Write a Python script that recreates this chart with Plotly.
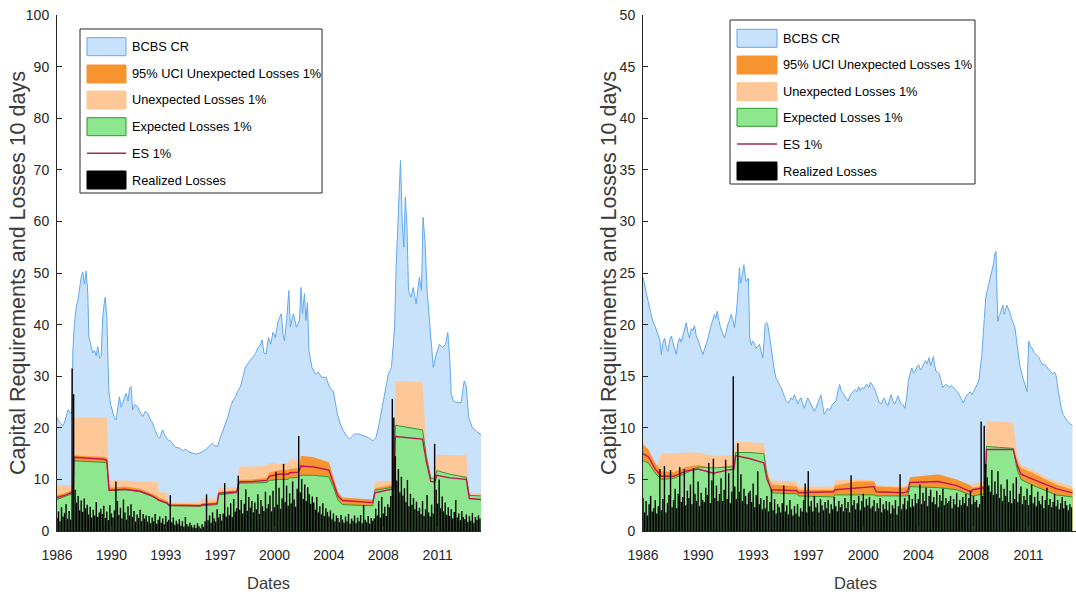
import plotly.graph_objects as go

W, H = 1076, 596

# ---------------------------------------------------------------- shared axis labels
TICK_VALS = [1986.0, 1989.6, 1993.2, 1996.8, 2000.4, 2004.0, 2007.6, 2011.2]
TICK_TEXT = ["1986", "1990", "1993", "1997", "2000", "2004", "2008", "2011"]
LEGEND_LABELS = ["BCBS CR", "95% UCI Unexpected Losses 1%", "Unexpected Losses 1%",
                 "Expected Losses 1%", "ES 1%", "Realized Losses"]

# ---------------------------------------------------------------- left panel
bcbs_l_dates = [
    1986.0, 1986.07, 1986.25, 1986.4, 1986.55, 1986.73, 1986.85, 1986.95, 1987.0, 1987.05,
    1987.15, 1987.27, 1987.4, 1987.49, 1987.6, 1987.71, 1987.82, 1987.93, 1988.04, 1988.11,
    1988.26, 1988.37, 1988.48, 1988.6, 1988.7, 1988.82, 1988.92, 1989.03, 1989.12, 1989.19,
    1989.3, 1989.43, 1989.55, 1989.69, 1989.8, 1989.91, 1990.0, 1990.13, 1990.25, 1990.35,
    1990.47, 1990.57, 1990.7, 1990.8, 1990.9, 1991.01, 1991.15, 1991.34, 1991.5, 1991.67,
    1991.85, 1992.0, 1992.15, 1992.33, 1992.5, 1992.66, 1992.8, 1992.99, 1993.15, 1993.32,
    1993.5, 1993.65, 1993.85, 1994.09, 1994.3, 1994.53, 1994.75, 1994.97, 1995.2, 1995.41,
    1995.6, 1995.85, 1996.05, 1996.29, 1996.45, 1996.62, 1996.84, 1997.0, 1997.16, 1997.3,
    1997.49, 1997.65, 1997.82, 1997.95, 1998.15, 1998.3, 1998.48, 1998.65, 1998.81, 1998.95,
    1999.14, 1999.3, 1999.45, 1999.58, 1999.7, 1999.84, 2000.0, 2000.15, 2000.3, 2000.45,
    2000.65, 2000.85, 2000.97, 2001.06, 2001.2, 2001.35, 2001.45, 2001.65, 2001.85, 2002.05,
    2002.15, 2002.25, 2002.38, 2002.48, 2002.58, 2002.68, 2002.88, 2003.1, 2003.3, 2003.5,
    2003.8, 2004.05, 2004.3, 2004.56, 2004.76, 2004.97, 2005.17, 2005.38, 2005.68, 2005.99,
    2006.3, 2006.61, 2006.91, 2007.12, 2007.32, 2007.53, 2007.73, 2007.94, 2008.14, 2008.35,
    2008.45, 2008.55, 2008.65, 2008.74, 2008.86, 2008.96, 2009.06, 2009.17, 2009.27, 2009.43,
    2009.58, 2009.78, 2009.99, 2010.13, 2010.23, 2010.36, 2010.5, 2010.7, 2010.91, 2011.11,
    2011.32, 2011.52, 2011.73, 2011.87, 2012.0, 2012.1, 2012.24, 2012.45, 2012.75, 2012.96,
    2013.1, 2013.25, 2013.5, 2013.75, 2014.07]
bcbs_l = [
    22.0, 21.5, 20.8, 20.4, 21.5, 23.5, 23.0, 22.8, 24.0, 35.0,
    40.0, 43.4, 45.0, 46.6, 49.2, 50.2, 47.9, 50.4, 46.0, 37.6,
    35.7, 34.5, 35.0, 34.0, 35.7, 33.5, 33.8, 41.5, 44.0, 45.3,
    41.5, 27.3, 24.5, 22.8, 22.0, 21.5, 23.5, 26.0, 24.0, 24.8,
    25.5, 26.7, 25.2, 27.5, 28.0, 23.5, 24.5, 24.1, 23.0, 22.2,
    23.2, 22.8, 21.8, 20.9, 19.5, 18.3, 18.0, 19.6, 18.5, 17.7,
    17.5, 17.0, 16.2, 16.1, 15.6, 15.8, 15.3, 15.1, 14.9, 15.1,
    15.3, 15.8, 16.3, 17.0, 16.5, 16.4, 18.3, 19.5, 20.9, 22.0,
    24.1, 25.3, 26.0, 27.0, 28.0, 29.5, 31.8, 32.5, 33.1, 33.8,
    34.4, 35.5, 36.0, 37.0, 34.5, 34.3, 37.5, 36.2, 38.5, 37.5,
    40.8, 42.1, 38.0, 36.9, 40.8, 46.6, 39.5, 42.1, 39.5, 40.8,
    47.2, 42.1, 46.0, 40.8, 44.3, 35.0, 31.7, 30.4, 30.8, 29.8,
    29.8, 27.8, 27.0, 22.7, 20.7, 19.4, 18.4, 17.8, 18.8, 18.8,
    18.4, 18.1, 17.5, 18.1, 20.7, 23.9, 26.5, 30.4, 31.7, 39.5,
    51.1, 58.9, 68.0, 71.8, 59.6, 55.0, 64.7, 59.0, 46.6, 45.3,
    47.2, 44.0, 49.2, 46.6, 60.8, 56.3, 46.6, 38.8, 31.7, 34.3,
    36.2, 35.6, 36.2, 38.5, 33.6, 26.5, 25.2, 24.9, 24.9, 29.1,
    28.0, 22.0, 20.0, 19.4, 18.6]

low_l_dates = [
    1986.0, 1986.5, 1987.0, 1987.08, 1987.12, 1988.0, 1989.1, 1989.3, 1989.45, 1990.5,
    1991.5, 1992.3, 1992.65, 1992.75, 1993.3, 1993.4, 1995.5, 1995.6, 1996.6, 1996.7,
    1997.9, 1998.05, 1999.0, 1999.9, 2000.05, 2000.7, 2001.3, 2001.4, 2002.0, 2002.15,
    2003.0, 2004.0, 2004.3, 2004.6, 2004.9, 2006.0, 2006.9, 2007.05, 2008.3, 2008.4,
    2009.3, 2010.2, 2010.45, 2010.75, 2011.0, 2011.15, 2012.0, 2013.1, 2013.3, 2014.07]
ul_l = [
    8.8, 8.8, 8.8, 8.8, 22.0, 22.0, 22.0, 22.0, 9.8, 9.8,
    9.6, 9.6, 9.5, 7.5, 7.4, 5.5, 5.5, 6.3, 6.3, 8.4,
    8.5, 12.5, 12.5, 12.7, 13.2, 13.0, 13.2, 13.8, 13.8, 12.5,
    12.5, 12.3, 10.0, 7.0, 6.0, 6.0, 5.8, 9.6, 9.8, 29.0,
    29.0, 28.8, 16.0, 11.0, 10.5, 14.8, 14.8, 14.7, 7.3, 7.2]
uci_l = [
    7.0, 7.3, 7.9, 7.9, 14.7, 14.5, 14.4, 14.2, 8.4, 8.6,
    8.2, 7.2, 6.8, 6.5, 5.8, 5.3, 5.2, 5.4, 5.6, 7.6,
    7.9, 9.9, 10.0, 10.3, 11.3, 11.8, 11.8, 12.0, 12.2, 14.6,
    14.3, 13.3, 10.5, 7.6, 6.5, 6.3, 6.1, 8.3, 9.0, 19.5,
    19.3, 19.0, 14.0, 10.2, 10.2, 11.2, 10.8, 10.5, 7.0, 6.8]
el_l = [
    6.1, 6.6, 7.2, 7.3, 13.6, 13.5, 13.3, 13.2, 7.8, 8.0,
    7.6, 6.7, 6.2, 5.9, 5.3, 4.9, 4.8, 4.9, 5.1, 7.0,
    7.4, 9.3, 9.3, 9.4, 9.8, 10.0, 10.0, 10.3, 10.4, 10.8,
    10.8, 10.5, 8.5, 6.0, 5.1, 5.0, 4.9, 7.9, 8.5, 20.5,
    20.0, 19.6, 14.5, 10.2, 10.2, 11.7, 11.0, 10.4, 6.9, 6.8]
es_l = [
    6.5, 6.9, 7.5, 7.6, 14.3, 14.1, 13.9, 13.7, 7.9, 8.1,
    7.7, 6.8, 6.3, 6.0, 5.4, 5.0, 4.9, 5.1, 5.3, 7.3,
    7.6, 9.5, 9.6, 9.8, 10.6, 11.0, 11.0, 11.3, 11.4, 12.6,
    12.4, 11.8, 9.3, 6.8, 5.9, 5.7, 5.5, 7.4, 8.2, 18.3,
    18.0, 17.8, 13.5, 9.6, 9.5, 10.8, 10.3, 10.0, 6.3, 6.1]

# realized 10-day losses, one value every 0.1 year from 1986.0
loss_l = [
    2.5, 3.8, 1.9, 4.6, 2.8, 3.5, 5.2, 2.4, 3.9, 2.2,
    31.5, 26.5, 8.0, 5.5, 6.8, 4.0, 5.9, 3.7, 6.3, 4.4,
    5.1, 3.2, 4.7, 2.6, 4.1, 3.0, 5.6, 2.7, 3.6, 4.3,
    3.3, 4.9, 2.5, 3.8, 2.1, 5.0, 3.4, 2.6, 4.0, 9.6,
    5.8, 3.1, 4.5, 2.4, 6.1, 3.6, 2.2, 4.8, 3.0, 5.2,
    2.7, 3.9, 1.8, 3.2, 2.5, 4.1, 1.9, 3.3, 2.4, 3.0,
    1.8, 2.9, 1.5, 2.6, 1.9, 3.3, 1.4, 2.2, 2.8, 1.6,
    2.4, 1.3, 2.9, 1.8, 2.2, 7.0, 1.7, 2.6, 1.2, 2.0,
    1.4, 2.3, 1.0, 1.9, 0.8, 2.7, 1.3, 0.9, 1.6, 1.1,
    0.7, 1.2, 0.6, 1.5, 0.9, 0.5, 1.3, 0.8, 1.9, 7.1,
    2.1, 3.0, 1.6, 3.6, 2.4, 1.8, 4.2, 2.6, 3.3, 2.0,
    3.4, 9.3, 2.8, 4.6, 3.1, 5.4, 2.7, 6.2, 3.8, 4.4,
    10.7, 4.1, 6.0, 3.4, 5.3, 8.1, 3.9, 6.6, 4.5, 5.8,
    3.6, 5.5, 4.2, 7.1, 3.3, 6.0, 4.8, 3.9, 7.6, 4.4,
    5.2, 6.9, 3.8, 7.8, 4.6, 11.5, 5.1, 8.4, 4.3, 6.3,
    13.0, 5.6, 8.8, 4.9, 7.3, 5.4, 9.6, 6.1, 4.7, 8.2,
    18.4, 7.5, 10.1, 6.2, 9.0, 5.8, 8.5, 7.1, 5.3, 6.7,
    5.5, 4.1, 6.6, 3.6, 4.8, 3.2, 5.4, 2.9, 4.4, 3.7,
    2.8, 4.0, 2.3, 3.4, 1.9, 3.0, 2.5, 1.7, 3.1, 2.2,
    1.6, 2.8, 1.9, 3.3, 1.4, 2.4, 2.0, 3.0, 1.5, 2.6,
    1.9, 3.1, 1.5, 5.0, 2.2, 1.7, 2.9, 1.4, 2.5, 2.0,
    2.4, 4.3, 3.0, 5.8, 2.6, 6.6, 3.4, 4.7, 2.9, 5.2,
    4.6, 6.8, 25.6, 22.0, 14.5, 9.8, 12.0, 7.5, 10.5, 6.9,
    8.3, 5.6, 9.9, 4.8, 7.2, 5.1, 6.4, 4.2, 5.7, 3.9,
    4.5, 3.3, 5.8, 2.9, 4.2, 7.0, 3.6, 2.8, 5.1, 3.4,
    16.9, 8.0, 5.3, 10.0, 4.4, 6.7, 3.8, 5.5, 3.1, 4.6,
    2.9, 4.2, 2.4, 3.7, 6.0, 2.6, 3.4, 2.1, 3.9, 2.7,
    2.3, 3.2, 1.8, 2.9, 2.0, 3.5, 1.6, 2.7, 2.2, 3.0,
    2.4]

# ---------------------------------------------------------------- right panel
bcbs_r_dates = [
    1986.0, 1986.1, 1986.2, 1986.33, 1986.5, 1986.65, 1986.8, 1986.98, 1987.1, 1987.2,
    1987.3, 1987.41, 1987.52, 1987.63, 1987.75, 1987.85, 1988.0, 1988.17, 1988.28, 1988.39,
    1988.5, 1988.61, 1988.72, 1988.83, 1988.94, 1989.04, 1989.15, 1989.26, 1989.37, 1989.48,
    1989.6, 1989.7, 1989.8, 1989.91, 1990.02, 1990.13, 1990.27, 1990.41, 1990.55, 1990.67,
    1990.76, 1990.85, 1990.96, 1991.07, 1991.2, 1991.33, 1991.44, 1991.54, 1991.65, 1991.76,
    1991.87, 1991.98, 1992.1, 1992.2, 1992.3, 1992.38, 1992.46, 1992.59, 1992.66, 1992.74,
    1992.89, 1992.98, 1993.08, 1993.17, 1993.28, 1993.39, 1993.5, 1993.61, 1993.72, 1993.83,
    1993.92, 1993.98, 1994.08, 1994.15, 1994.26, 1994.37, 1994.5, 1994.6, 1994.7, 1994.85,
    1995.02, 1995.18, 1995.35, 1995.5, 1995.67, 1995.78, 1995.89, 1996.0, 1996.11, 1996.22,
    1996.33, 1996.44, 1996.54, 1996.65, 1996.76, 1996.87, 1996.98, 1997.1, 1997.2, 1997.3,
    1997.41, 1997.52, 1997.63, 1997.74, 1997.85, 1997.96, 1998.07, 1998.2, 1998.39, 1998.5,
    1998.61, 1998.75, 1998.85, 1998.95, 1999.1, 1999.25, 1999.4, 1999.55, 1999.7, 1999.86,
    2000.0, 2000.09, 2000.2, 2000.31, 2000.45, 2000.55, 2000.65, 2000.76, 2000.87, 2000.98,
    2001.1, 2001.2, 2001.32, 2001.43, 2001.55, 2001.66, 2001.77, 2001.88, 2002.0, 2002.11,
    2002.22, 2002.33, 2002.45, 2002.56, 2002.67, 2002.78, 2002.89, 2003.0, 2003.12, 2003.23,
    2003.34, 2003.45, 2003.57, 2003.68, 2003.79, 2003.9, 2004.02, 2004.13, 2004.24, 2004.35,
    2004.47, 2004.58, 2004.69, 2004.8, 2004.9, 2004.98, 2005.07, 2005.14, 2005.26, 2005.37,
    2005.48, 2005.59, 2005.7, 2005.82, 2005.93, 2006.04, 2006.15, 2006.27, 2006.38, 2006.49,
    2006.6, 2006.71, 2006.82, 2006.94, 2007.05, 2007.16, 2007.28, 2007.39, 2007.5, 2007.61,
    2007.72, 2007.84, 2007.95, 2008.06, 2008.14, 2008.22, 2008.3, 2008.4, 2008.5, 2008.62,
    2008.72, 2008.85, 2008.92, 2008.98, 2009.07, 2009.12, 2009.19, 2009.26, 2009.34, 2009.43,
    2009.52, 2009.6, 2009.68, 2009.77, 2009.86, 2009.97, 2010.09, 2010.2, 2010.31, 2010.42,
    2010.53, 2010.64, 2010.76, 2010.87, 2010.98, 2011.1, 2011.15, 2011.21, 2011.32, 2011.43,
    2011.55, 2011.66, 2011.77, 2011.88, 2012.0, 2012.11, 2012.22, 2012.33, 2012.45, 2012.56,
    2012.67, 2012.78, 2012.9, 2013.01, 2013.12, 2013.23, 2013.35, 2013.46, 2013.6, 2013.75,
    2014.07]
bcbs_r = [
    24.6, 23.8, 23.0, 22.3, 21.2, 20.3, 19.8, 19.0, 18.5, 17.1,
    18.2, 18.7, 17.8, 17.4, 18.5, 18.9, 18.0, 17.1, 18.2, 18.7,
    18.3, 19.0, 19.5, 20.2, 19.2, 18.7, 19.6, 19.4, 19.9, 18.9,
    18.5, 18.1, 17.6, 17.1, 17.6, 18.1, 18.8, 19.7, 20.4, 21.0,
    20.6, 21.3, 20.4, 19.7, 19.2, 18.7, 19.3, 20.0, 20.4, 21.0,
    20.5, 19.7, 21.2, 22.9, 25.5, 24.0, 24.5, 25.8, 25.0, 24.2,
    24.5, 18.7, 18.0, 18.4, 18.2, 17.7, 17.9, 18.1, 17.4, 16.8,
    18.5, 20.0, 20.2, 20.0, 19.0, 17.7, 16.5, 15.4, 14.8, 14.4,
    13.9, 13.3, 12.6, 12.4, 12.9, 12.7, 13.2, 12.8, 12.3, 12.7,
    12.9, 12.3, 11.9, 12.4, 12.9, 12.6, 12.3, 12.0, 11.6, 11.9,
    12.3, 12.7, 13.2, 12.2, 11.3, 11.6, 11.9, 11.7, 12.3, 12.4,
    12.6, 13.6, 14.2, 13.6, 13.3, 12.9, 12.6, 13.2, 13.5, 13.7,
    13.5, 14.0, 13.6, 13.9, 13.8, 14.1, 14.2, 13.9, 14.4, 14.2,
    13.9, 13.5, 12.9, 12.5, 12.3, 12.6, 12.9, 12.4, 12.1, 12.7,
    13.2, 12.6, 12.3, 12.7, 13.1, 12.6, 12.3, 12.2, 11.9, 13.0,
    14.5, 15.2, 15.8, 15.3, 15.5, 15.9, 16.1, 15.6, 15.8, 16.2,
    16.5, 16.2, 16.8, 16.0, 16.4, 16.9, 16.0, 15.5, 15.4, 15.2,
    14.6, 13.9, 14.1, 14.2, 14.0, 13.9, 14.1, 13.9, 13.7, 13.5,
    13.4, 13.1, 12.8, 12.4, 12.8, 13.2, 13.3, 13.5, 13.2, 13.5,
    13.9, 14.2, 14.6, 15.8, 17.0, 18.7, 20.5, 22.6, 23.3, 24.2,
    24.7, 25.5, 26.0, 26.8, 27.1, 24.0, 20.3, 20.8, 21.0, 21.5,
    21.9, 21.0, 21.3, 21.9, 21.6, 21.2, 20.6, 20.1, 19.7, 18.4,
    17.1, 16.0, 15.2, 14.6, 14.2, 13.5, 16.0, 18.4, 17.9, 17.7,
    17.3, 17.1, 17.0, 16.8, 16.4, 16.1, 16.2, 16.0, 15.7, 15.6,
    15.3, 15.2, 15.4, 15.0, 13.8, 12.6, 11.8, 11.3, 10.9, 10.6,
    10.2]

low_r_dates = [
    1986.0, 1986.35, 1986.8, 1987.2, 1988.0, 1988.8, 1989.6, 1990.6, 1991.5, 1991.95,
    1992.05, 1993.0, 1993.9, 1994.1, 1994.4, 1996.05, 1996.15, 1998.45, 1998.55, 2000.0,
    2001.1, 2001.25, 2003.0, 2003.3, 2003.45, 2005.3, 2006.5, 2007.45, 2007.55, 2008.35,
    2008.45, 2009.3, 2010.2, 2010.45, 2010.7, 2011.5, 2012.3, 2013.0, 2014.07]
ul_r = [
    7.5, 7.0, 6.0, 7.5, 7.5, 7.6, 7.6, 7.3, 7.3, 7.4,
    8.7, 8.6, 8.5, 6.0, 4.9, 4.8, 4.3, 4.3, 4.9, 5.0,
    4.9, 4.4, 4.3, 4.3, 5.2, 5.3, 4.8, 4.2, 4.6, 4.8,
    10.6, 10.6, 10.5, 7.5, 6.4, 5.9, 5.2, 4.8, 4.3]
uci_r = [
    8.4, 7.9, 6.6, 5.8, 5.7, 6.2, 6.4, 6.1, 6.3, 6.4,
    7.6, 7.4, 7.0, 5.6, 4.5, 4.3, 4.0, 4.0, 4.4, 4.8,
    4.8, 4.3, 4.2, 4.3, 5.2, 5.5, 5.0, 4.4, 4.2, 4.4,
    8.0, 8.0, 8.0, 6.8, 6.1, 5.6, 5.0, 4.5, 4.0]
el_r = [
    6.8, 6.6, 5.6, 5.0, 5.1, 5.6, 6.2, 6.1, 6.2, 6.2,
    7.6, 7.6, 7.5, 5.5, 3.7, 3.6, 3.4, 3.3, 3.5, 3.5,
    3.5, 3.4, 3.4, 3.4, 4.3, 4.2, 4.0, 3.5, 3.4, 3.6,
    8.2, 8.1, 8.0, 6.0, 5.0, 4.4, 3.9, 3.5, 3.3]
es_r = [
    7.5, 7.2, 6.0, 5.3, 5.3, 5.8, 6.0, 5.6, 5.9, 6.0,
    7.3, 7.0, 6.6, 5.0, 4.0, 3.9, 3.7, 3.8, 4.0, 4.2,
    4.3, 3.8, 3.7, 3.8, 4.7, 4.8, 4.4, 3.8, 4.0, 4.2,
    7.9, 7.9, 7.9, 6.4, 5.5, 5.0, 4.5, 4.1, 3.7]

loss_r = [
    3.2, 1.8, 2.9, 1.5, 2.6, 3.4, 1.9, 2.2, 3.0, 1.7,
    2.4, 6.0, 2.0, 3.1, 6.3, 1.8, 2.7, 3.5, 5.9, 2.3,
    3.0, 4.1, 2.2, 3.6, 6.2, 2.8, 3.3, 6.0, 2.5, 3.9,
    3.2, 4.5, 2.6, 6.1, 3.6, 2.9, 4.8, 2.4, 3.7, 3.0,
    2.8, 4.2, 3.5, 6.6, 2.7, 4.9, 7.0, 3.2, 4.4, 2.9,
    3.6, 5.1, 2.9, 4.0, 6.9, 3.1, 5.6, 2.7, 3.8, 15.0,
    4.3, 3.1, 8.5, 3.8, 5.5, 2.9, 4.1, 3.4, 2.6, 3.7,
    3.9, 2.8, 4.6, 2.3, 3.5, 5.8, 2.6, 3.2, 2.1, 3.0,
    2.2, 3.4, 1.9, 2.8, 4.0, 2.0, 3.1, 1.7, 2.6, 2.3,
    1.8, 2.7, 4.4, 1.9, 2.5, 1.6, 3.0, 2.1, 1.5, 2.4,
    1.7, 2.6, 1.4, 2.2, 1.9, 3.0, 4.6, 1.8, 5.8, 2.4,
    2.9, 1.9, 3.4, 2.3, 2.7, 1.8, 3.1, 2.5, 2.0, 2.8,
    2.2, 3.0, 1.7, 2.6, 2.1, 3.3, 2.4, 1.9, 2.9, 2.3,
    2.6, 1.9, 3.2, 2.2, 2.8, 1.8, 5.4, 2.5, 3.0, 2.1,
    2.7, 3.4, 2.0, 2.9, 3.6, 2.3, 3.1, 2.5, 3.3, 2.2,
    2.4, 3.0, 1.9, 2.7, 2.2, 3.2, 1.8, 2.6, 2.1, 2.9,
    2.0, 2.8, 1.7, 2.5, 2.2, 3.0, 1.6, 2.4, 5.5, 2.1,
    2.6, 3.2, 2.1, 2.9, 3.5, 2.3, 3.1, 2.4, 3.6, 2.7,
    3.1, 4.5, 2.6, 3.7, 2.9, 4.2, 2.4, 3.4, 4.0, 2.8,
    3.3, 2.6, 3.9, 2.3, 3.5, 2.9, 4.1, 2.5, 3.2, 2.7,
    2.9, 3.4, 2.2, 3.1, 2.6, 3.7, 2.3, 3.0, 2.5, 3.3,
    2.7, 3.6, 2.4, 3.2, 3.9, 2.6, 3.4, 2.8, 3.0, 2.3,
    2.6, 10.6, 3.4, 10.2, 6.5, 5.2, 4.4, 3.8, 5.9, 3.5,
    4.8, 3.6, 5.8, 3.2, 4.5, 2.9, 4.1, 3.4, 5.0, 2.8,
    3.9, 2.7, 4.6, 3.1, 5.2, 2.8, 3.6, 4.3, 2.6, 3.4,
    3.0, 4.1, 2.5, 3.5, 4.5, 2.7, 3.3, 2.4, 3.8, 2.9,
    2.6, 3.4, 2.2, 3.0, 4.2, 2.5, 3.1, 2.3, 2.8, 3.6,
    2.4, 3.0, 2.1, 2.7, 3.3, 2.2, 2.9, 2.5, 2.0, 2.6,
    2.3]

LOSS_START, LOSS_STEP = 1986.0, 0.1

# ---------------------------------------------------------------- styling
BLUE_FILL, BLUE_LINE = "#c9e2fb", "#62a8ef"
ORANGE = "#f8942f"
PEACH = "#fdc797"
GREEN_FILL, GREEN_LINE = "#8ee68e", "#2c9a2c"
ES_COLOR = "#c0145a"
AXIS_COLOR = "#262626"
FONT = "Liberation Sans, Arial, sans-serif"

fig = go.Figure()


def add_panel(xa, ya, bd, bv, ld, ul, uci, el, es, loss):
    common = dict(xaxis=xa, yaxis=ya, hoverinfo="skip", showlegend=False)
    fig.add_trace(go.Scatter(x=bd, y=bv, mode="lines", fill="tozeroy",
                             fillcolor=BLUE_FILL, line=dict(color=BLUE_LINE, width=1), **common))
    fig.add_trace(go.Scatter(x=ld, y=ul, mode="lines", fill="tozeroy",
                             fillcolor=PEACH, line=dict(color=PEACH, width=0), **common))
    fig.add_trace(go.Scatter(x=ld, y=uci, mode="lines", fill="tozeroy",
                             fillcolor=ORANGE, line=dict(color=ORANGE, width=0), **common))
    fig.add_trace(go.Scatter(x=ld, y=el, mode="lines", fill="tozeroy",
                             fillcolor=GREEN_FILL, line=dict(color=GREEN_LINE, width=1), **common))
    fig.add_trace(go.Scatter(x=ld, y=es, mode="lines",
                             line=dict(color=ES_COLOR, width=1.4), **common))
    # realized losses as thin vertical stems
    sx, sy = [], []
    for i, v in enumerate(loss):
        d = round(LOSS_START + LOSS_STEP * i, 2)
        sx += [d, d, None]
        sy += [0, v, None]
    fig.add_trace(go.Scatter(x=sx, y=sy, mode="lines",
                             line=dict(color="black", width=1.4), **common))


add_panel("x", "y", bcbs_l_dates, bcbs_l, low_l_dates, ul_l, uci_l, el_l, es_l, loss_l)
add_panel("x2", "y2", bcbs_r_dates, bcbs_r, low_r_dates, ul_r, uci_r, el_r, es_r, loss_r)

Y_DOMAIN = [(H - 531) / H, (H - 15) / H]


def xaxis_cfg(x0, x1, xmax, anchor):
    return dict(domain=[x0 / W, x1 / W], range=[1986.0, xmax], anchor=anchor,
                tickvals=TICK_VALS, ticktext=TICK_TEXT, ticks="inside", ticklen=5,
                tickcolor=AXIS_COLOR, showline=True, linecolor=AXIS_COLOR, linewidth=1,
                showgrid=False, zeroline=False, automargin=False,
                tickfont=dict(family=FONT, size=14, color=AXIS_COLOR),
                ticklabelstandoff=11)


def yaxis_cfg(anchor, ymax, dtick):
    return dict(domain=Y_DOMAIN, range=[0, ymax], dtick=dtick, anchor=anchor,
                ticks="inside", ticklen=5, tickcolor=AXIS_COLOR, showline=True,
                linecolor=AXIS_COLOR, linewidth=1, showgrid=False, zeroline=False,
                automargin=False, tickfont=dict(family=FONT, size=14, color=AXIS_COLOR),
                ticklabelstandoff=4)


annotations = []
shapes = []


def px(xp):
    return xp / W


def py(yp):
    return 1 - yp / H


def titles(ytitle_x, dates_x):
    annotations.append(dict(text="Capital Requirements and Losses 10 days", textangle=-90,
                            x=px(ytitle_x), y=py(273), xref="paper", yref="paper",
                            xanchor="center", yanchor="middle", showarrow=False,
                            font=dict(family=FONT, size=21.5, color="#3a3a3a")))
    annotations.append(dict(text="Dates", x=px(dates_x), y=py(583),
                            xref="paper", yref="paper", xanchor="center", yanchor="middle",
                            showarrow=False,
                            font=dict(family=FONT, size=16.5, color="#3a3a3a")))


def legend(box, sw_x0, sw_x1, text_x, rows):
    x0, y0, x1, y1 = box
    shapes.append(dict(type="rect", xref="paper", yref="paper", x0=px(x0), x1=px(x1),
                       y0=py(y0), y1=py(y1), fillcolor="white",
                       line=dict(color=AXIS_COLOR, width=1)))
    swatches = [(BLUE_FILL, BLUE_LINE), (ORANGE, ORANGE), (PEACH, PEACH),
                (GREEN_FILL, GREEN_LINE), None, ("black", "black")]
    for label, sw, yc in zip(LEGEND_LABELS, swatches, rows):
        if sw is None:
            shapes.append(dict(type="line", xref="paper", yref="paper", x0=px(sw_x0),
                               x1=px(sw_x1), y0=py(yc), y1=py(yc),
                               line=dict(color="#9c2a5c", width=1.5)))
        else:
            shapes.append(dict(type="rect", xref="paper", yref="paper", x0=px(sw_x0),
                               x1=px(sw_x1), y0=py(yc - 9), y1=py(yc + 9),
                               fillcolor=sw[0], line=dict(color=sw[1], width=1)))
        annotations.append(dict(text=label, x=px(text_x), y=py(yc), xref="paper",
                                yref="paper", xanchor="left", yanchor="middle",
                                showarrow=False,
                                font=dict(family=FONT, size=12.8, color="black")))


titles(18, 268)
titles(609, 855)
legend((80, 29, 322, 193), 87, 126, 130, [46.7, 74, 100, 126.7, 153.3, 180])
legend((730, 20, 975, 184), 737, 777, 781, [38.3, 65, 91.7, 117.3, 144, 171])

fig.update_layout(
    width=W, height=H, margin=dict(l=0, r=0, t=0, b=0, autoexpand=False),
    paper_bgcolor="white", plot_bgcolor="white", showlegend=False,
    xaxis=xaxis_cfg(57, 481, 2014.07, "y"), yaxis=yaxis_cfg("x", 100, 10),
    xaxis2=xaxis_cfg(643, 1076, 2014.3, "y2"), yaxis2=yaxis_cfg("x2", 50, 5),
    annotations=annotations, shapes=shapes,
)

fig.write_html("out.html")
